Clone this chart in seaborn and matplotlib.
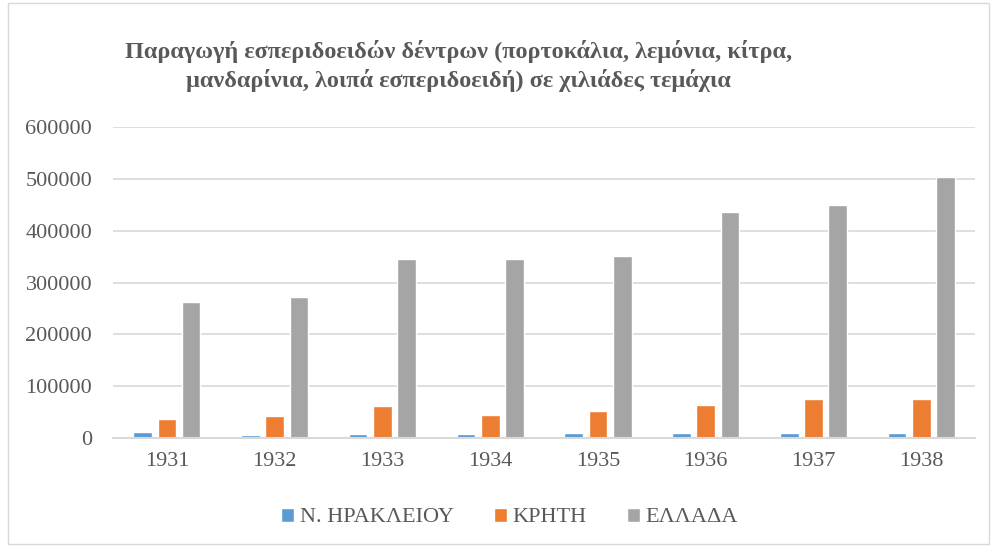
import pandas as pd
import seaborn as sns
import matplotlib.pyplot as plt
from matplotlib.patches import Rectangle

years = ['1931', '1932', '1933', '1934', '1935', '1936', '1937', '1938']
heraklion = [11000, 6000, 8500, 8000, 9500, 9500, 9500, 9500]
crete = [36500, 42000, 62000, 44000, 52000, 64000, 76000, 76000]
greece = [263000, 271500, 344500, 345000, 351000, 435000, 450000, 503000]
series = ['Ν. ΗΡΑΚΛΕΙΟΥ', 'ΚΡΗΤΗ', 'ΕΛΛΑΔΑ']
colors = ['#5B9BD5', '#ED7D31', '#A5A5A5']

df = pd.DataFrame({'year': years * 3,
                   'value': heraklion + crete + greece,
                   'series': [s for s in series for _ in years]})

sns.set_style('white')
plt.rcParams['font.family'] = ['Liberation Serif', 'DejaVu Serif']
txt = '#595959'

fig = plt.figure(figsize=(9.91, 5.47), dpi=100)
ax = fig.add_axes([0.114, 0.199, 0.87, 0.569])
sns.barplot(data=df, x='year', y='value', hue='series', palette=colors,
            width=0.675, gap=0.23, ax=ax, saturation=1)

ax.set_ylim(0, 600000)
ax.set_yticks(range(0, 600001, 100000))
ax.yaxis.grid(True, color='#D9D9D9', linewidth=1.2)
ax.set_axisbelow(True)
for s in ['top', 'right', 'left']:
    ax.spines[s].set_visible(False)
ax.spines['bottom'].set_color('#D9D9D9')
ax.spines['bottom'].set_linewidth(1.5)
ax.tick_params(axis='both', length=0, labelsize=16, labelcolor=txt)
ax.tick_params(axis='x', pad=10)
ax.tick_params(axis='y', pad=15)
ax.set_xlabel('')
ax.set_ylabel('')

ax.legend(loc='center', bbox_to_anchor=(0.46, -0.255), ncol=3,
          frameon=False, fontsize=16, labelcolor=txt, handlelength=0.6,
          handleheight=0.6, handletextpad=0.25, columnspacing=1.8)

fig.text(0.463, 0.879,
         'Παραγωγή εσπεριδοειδών δέντρων (πορτοκάλια, λεμόνια, κίτρα,\n'
         'μανδαρίνια, λοιπά εσπεριδοειδή) σε χιλιάδες τεμάχια',
         ha='center', va='center', multialignment='center',
         fontsize=17.5, fontweight='bold', color=txt, linespacing=1.3)

fig.patches.append(Rectangle((0.008, 0.005), 0.99, 0.99, transform=fig.transFigure,
                             fill=False, edgecolor='#D9D9D9', linewidth=1))

fig.savefig('out.png', dpi=100)
